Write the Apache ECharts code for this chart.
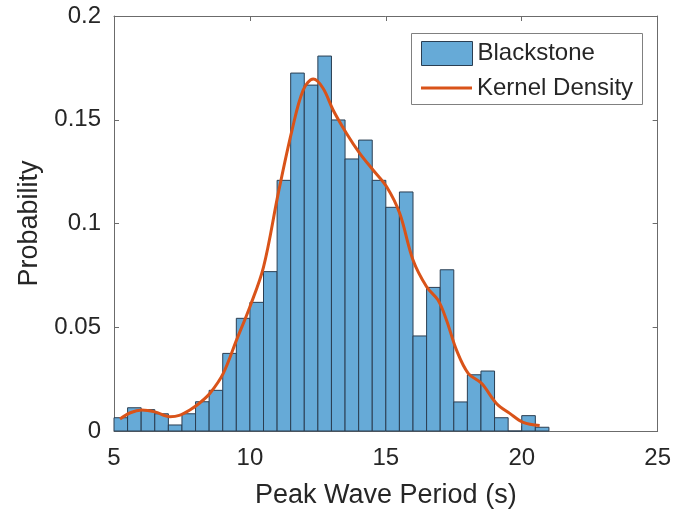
<!DOCTYPE html>
<html>
<head>
<meta charset="utf-8">
<script src="https://cdn.jsdelivr.net/npm/echarts@6/dist/echarts.min.js"></script>
<style>
html,body{margin:0;padding:0;background:#fff;}
#chart{width:674px;height:517px;}
</style>
</head>
<body>
<div id="chart"></div>
<script>
// Histogram bins (left edges, width 0.5 s) and probabilities
const binLeft = [5, 5.5, 6, 6.5, 7, 7.5, 8, 8.5, 9, 9.5, 10, 10.5, 11, 11.5, 12, 12.5,
                 13, 13.5, 14, 14.5, 15, 15.5, 16, 16.5, 17, 17.5, 18, 18.5, 19, 19.5, 20, 20.5];
const binWidth = 0.5;
const binProb = [0.0064, 0.0112, 0.0103, 0.0083, 0.0029, 0.0083, 0.0141, 0.0196, 0.0374, 0.0543,
                 0.0620, 0.0768, 0.1208, 0.1725, 0.1667, 0.1807, 0.1499, 0.1311, 0.1402, 0.1208,
                 0.1078, 0.1152, 0.0458, 0.0692, 0.0777, 0.0140, 0.0271, 0.0289, 0.0064, 0.0000,
                 0.0074, 0.0018];

// Kernel density curve samples
const kdeX = [5.22, 5.6, 6.02, 6.5, 7.06, 7.4, 7.79, 8.15, 8.53, 9.02, 9.51, 10.0, 10.5, 11.05,
              11.55, 11.96, 12.33, 12.69, 13.06, 13.55, 14.04, 14.53, 15.03, 15.51, 16.0,
              16.5, 16.92, 17.23, 17.6, 18.03, 18.52, 19.07, 19.56, 20.05, 20.66];
const kdeY = [0.0058, 0.0088, 0.0101, 0.0092, 0.0069, 0.0075, 0.0101, 0.0135, 0.0182, 0.0278, 0.0439,
              0.0599, 0.0790, 0.1150, 0.1450, 0.1643, 0.1696, 0.1652, 0.1547, 0.1435,
              0.1338, 0.1258, 0.1177, 0.1049, 0.0824, 0.0695, 0.0631, 0.0535, 0.0390,
              0.0278, 0.0230, 0.0133, 0.0085, 0.0042, 0.0026];

const xTicks = [5, 10, 15, 20, 25];
const yTicks = [0, 0.05, 0.1, 0.15, 0.2];

const FONT = "'Liberation Sans', Arial, sans-serif";
const TXT = '#262626';
const AX = '#6b6b6b';
const BAR = '#66aad7';
const BAR_EDGE = '#2a3e52';
const LINE = '#d95319';

const chart = echarts.init(document.getElementById('chart'), null, {renderer: 'canvas'});

const histData = binLeft.map((l, i) => [l, l + binWidth, binProb[i]]);
const kdeData = kdeX.map((x, i) => [x, kdeY[i]]);

const xCommon = {
  type: 'value', min: xTicks[0], max: xTicks[xTicks.length - 1], interval: 5,
  splitLine: {show: false},
  axisLine: {show: true, onZero: false, lineStyle: {color: AX, width: 1}},
  axisTick: {show: true, inside: true, length: 5, lineStyle: {color: AX}}
};
const yCommon = {
  type: 'value', min: yTicks[0], max: yTicks[yTicks.length - 1], interval: 0.05,
  splitLine: {show: false},
  axisLine: {show: true, onZero: false, lineStyle: {color: AX, width: 1}},
  axisTick: {show: true, inside: true, length: 5, lineStyle: {color: AX}}
};

chart.setOption({
  animation: false,
  backgroundColor: '#fff',
  textStyle: {fontFamily: FONT},
  grid: {left: 114, right: 16, top: 16, bottom: 86, containLabel: false},
  xAxis: [
    Object.assign({}, xCommon, {
      position: 'bottom',
      name: 'Peak Wave Period (s)', nameLocation: 'middle', nameGap: 51,
      nameTextStyle: {fontSize: 27, color: TXT, fontFamily: FONT},
      axisLabel: {fontSize: 24, color: TXT, margin: 15, fontFamily: FONT}
    }),
    Object.assign({}, xCommon, {position: 'top', axisLabel: {show: false}})
  ],
  yAxis: [
    Object.assign({}, yCommon, {
      position: 'left',
      name: 'Probability', nameLocation: 'middle', nameGap: 69,
      nameTextStyle: {fontSize: 27, color: TXT, fontFamily: FONT},
      axisLabel: {fontSize: 24, color: TXT, margin: 13, fontFamily: FONT}
    }),
    Object.assign({}, yCommon, {position: 'right', axisLabel: {show: false}})
  ],
  legend: [
    {
      data: [{name: 'Blackstone', itemStyle: {color: BAR, borderColor: BAR_EDGE, borderWidth: 1}}],
      left: 421, top: 41, padding: 0, itemWidth: 51, itemHeight: 24, icon: 'rect',
      textStyle: {fontSize: 24, color: TXT, fontFamily: FONT}, selectedMode: false
    },
    {
      data: [{name: 'Kernel Density', icon: 'rect', itemStyle: {color: LINE}}],
      left: 421, top: 76, padding: 0, itemWidth: 51, itemHeight: 3,
      textStyle: {fontSize: 24, color: TXT, fontFamily: FONT}, selectedMode: false
    }
  ],
  graphic: [{
    type: 'rect', left: 411, top: 33, z: -1,
    shape: {width: 231, height: 71},
    style: {fill: '#fff', stroke: '#808080', lineWidth: 1}
  }],
  series: [
    {
      name: 'Blackstone', type: 'custom', xAxisIndex: 0, yAxisIndex: 0,
      data: histData,
      encode: {x: [0, 1], y: 2},
      itemStyle: {color: BAR},
      renderItem: function (params, api) {
        const p0 = api.coord([api.value(0), api.value(2)]);
        const p1 = api.coord([api.value(1), 0]);
        return {
          type: 'rect',
          shape: {x: p0[0], y: p0[1], width: p1[0] - p0[0], height: p1[1] - p0[1]},
          style: {fill: BAR, stroke: BAR_EDGE, lineWidth: 1}
        };
      },
      z: 2
    },
    {
      name: 'Kernel Density', type: 'line', xAxisIndex: 0, yAxisIndex: 0,
      data: kdeData, smooth: 0.35, showSymbol: false, symbol: 'none',
      lineStyle: {color: LINE, width: 3},
      itemStyle: {color: LINE},
      z: 3
    }
  ]
});
</script>
</body>
</html>
